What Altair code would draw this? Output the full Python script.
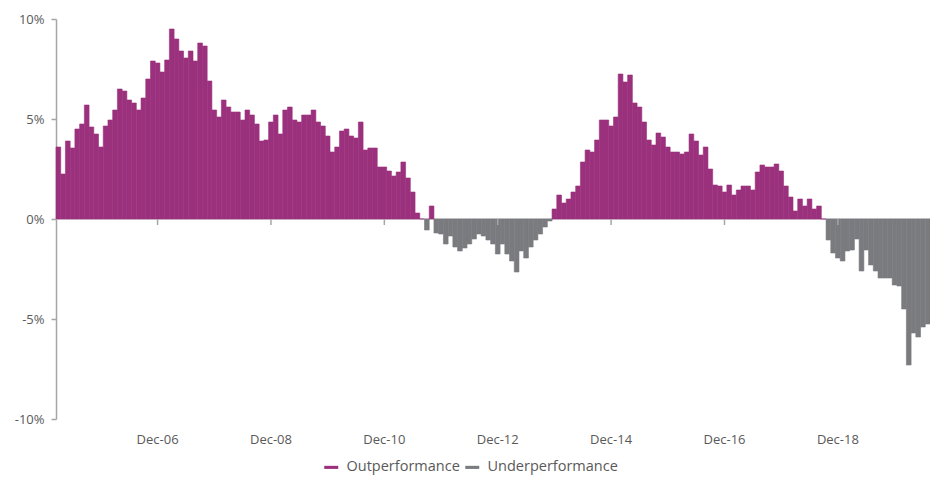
import altair as alt
import pandas as pd

# Monthly relative performance, Mar-2005 .. Jul-2020 (percent)
values = [
    3.6, 2.25, 3.9, 3.55, 4.5, 4.75, 5.7, 4.6, 4.25, 3.6, 4.65, 4.95, 5.45, 6.5, 6.4, 5.95, 5.8, 5.45, 6.05, 7.0,
    7.9, 7.8, 7.35, 7.95, 9.5, 9.0, 8.4, 8.05, 8.4, 7.9, 8.8, 8.65, 6.9, 5.45, 5.1, 5.95, 5.6,
    5.35, 5.35, 4.95, 5.45, 5.2, 4.75, 3.9, 3.95, 4.85, 5.2, 4.25, 5.45, 5.6, 4.95, 4.85, 5.2, 5.2, 5.45, 4.85,
    4.65, 4.15, 3.35, 3.6, 4.4, 4.5, 4.15, 4.05, 4.85, 3.45, 3.55, 3.55, 2.6, 2.6, 2.4, 2.15, 2.35, 2.85, 2.05,
    1.35, 0.3,
    0.0, -0.55, 0.65,
    -0.7, -0.75, -1.25, -0.85, -1.4, -1.6, -1.45, -1.25, -1.0, -0.75, -0.85, -1.05, -1.25, -1.75, -1.25, -1.75,
    -2.1, -2.65, -1.6, -1.95, -1.4, -1.05, -0.75, -0.4, -0.1,
    0.5, 1.2, 0.8, 1.0, 1.35, 1.65, 2.85, 3.45, 3.35, 3.95, 4.95, 4.95, 4.65, 5.1, 7.25, 6.85, 7.2, 5.8, 5.6,
    4.85, 3.95, 3.7, 4.3, 4.1, 3.6, 3.35, 3.35, 3.25, 3.35, 4.25, 3.9, 3.2, 3.6, 2.5, 1.7, 1.65, 1.35, 1.7, 1.2,
    1.45, 1.65, 1.65, 1.45, 2.35, 2.7, 2.6, 2.6, 2.75, 2.4, 1.65, 1.1, 0.4, 1.0, 0.65, 1.0, 0.5, 0.65,
    0.0,
    -1.05, -1.7, -1.95, -2.1, -1.6, -1.55, -1.0, -2.6, -1.55, -2.3, -2.6, -2.95, -2.95, -2.95, -3.3, -3.35,
    -4.5, -7.3, -5.7, -5.9, -5.4, -5.25,
]

months = [d.strftime("%b-%y") for d in pd.date_range("2005-03-01", periods=len(values), freq="MS")]
tick_months = ["Dec-06", "Dec-08", "Dec-10", "Dec-12", "Dec-14", "Dec-16", "Dec-18"]
series_names = ["Outperformance", "Underperformance"]
series_colors = ["#9b317d", "#7a7b7f"]
y_ticks = [-10, -5, 0, 5, 10]

df = pd.DataFrame({
    "month": months,
    "value": values,
    "series": [series_names[0] if v >= 0 else series_names[1] for v in values],
})
df_ticks = pd.DataFrame({"month": tick_months})

FONT = "Open Sans"
TXT = "#595959"

xscale = alt.Scale(paddingInner=0, paddingOuter=0)
cscale = alt.Scale(domain=series_names, range=series_colors)

zero = alt.Chart(pd.DataFrame({"y": [0]})).mark_rule(color="#d0d0d0", strokeWidth=1.5).encode(
    y=alt.Y("y:Q")
)

bars = alt.Chart(df).mark_bar(strokeWidth=0.6).encode(
    x=alt.X(
        "month:O", sort=months, scale=xscale,
        axis=alt.Axis(values=tick_months, ticks=False, domain=False, labelAngle=0, labelPadding=14,
                      title=None, labelFont=FONT, labelFontSize=13, labelColor=TXT),
    ),
    y=alt.Y(
        "value:Q", scale=alt.Scale(domain=[-10, 10]),
        axis=alt.Axis(values=y_ticks, labelExpr="datum.value + '%'", grid=False, title=None,
                      domainColor="#a6a6a6", domainWidth=1.5, tickColor="#a6a6a6", tickSize=5,
                      tickWidth=1.5, labelPadding=7, labelFont=FONT, labelFontSize=13, labelColor=TXT),
    ),
    color=alt.Color(
        "series:N", scale=cscale,
        legend=alt.Legend(orient="none", legendX=268, legendY=441, direction="horizontal", title=None,
                          symbolType="M-1,-0.22H1V0.22H-1Z", symbolSize=196, symbolStrokeWidth=0,
                          labelFont=FONT, labelFontSize=14.5, labelColor=TXT, columnPadding=5,
                          labelOffset=8),
    ),
    stroke=alt.Stroke("series:N", scale=cscale, legend=None),
)

ticks = alt.Chart(df_ticks).mark_rule(color="#a6a6a6", strokeWidth=1.5).encode(
    x=alt.X("month:O", sort=months, scale=xscale),
    y=alt.datum(0),
    y2=alt.datum(-0.3),
)

chart = alt.layer(zero, bars, ticks).properties(
    width=874, height=400,
    autosize=alt.AutoSizeParams(type="none"),
    padding={"left": 48, "top": 11, "right": 0, "bottom": 57},
).configure_view(stroke=None)

chart.save("out.html", embed_options={"renderer": "svg", "actions": False})
